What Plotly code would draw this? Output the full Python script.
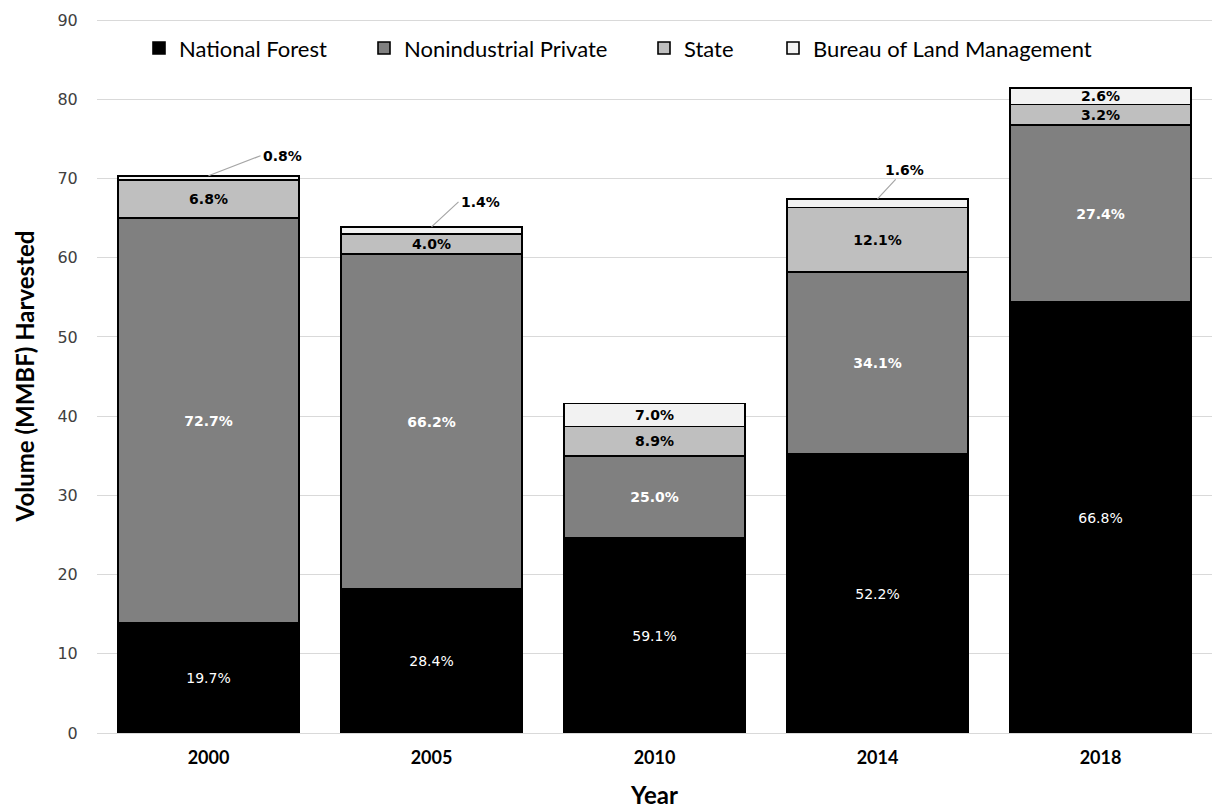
import plotly.graph_objects as go

years = ["2000", "2005", "2010", "2014", "2018"]
national_forest = [13.9, 18.15, 24.6, 35.2, 54.4]
nonindustrial_private = [51.1, 42.3, 10.4, 23.0, 22.35]
state = [4.8, 2.56, 3.7, 8.15, 2.6]
blm = [0.56, 0.9, 2.9, 1.08, 2.1]

nf_pct = ["19.7%", "28.4%", "59.1%", "52.2%", "66.8%"]
nip_pct = ["72.7%", "66.2%", "25.0%", "34.1%", "27.4%"]
st_pct = ["6.8%", "4.0%", "8.9%", "12.1%", "3.2%"]
blm_pct = ["0.8%", "1.4%", "7.0%", "1.6%", "2.6%"]
blm_inside = [False, False, True, False, True]

series_names = ["National Forest", "Nonindustrial Private", "State", "Bureau of Land Management"]
colors = ["#000000", "#808080", "#bfbfbf", "#f2f2f2"]
legend_ids = ["legend", "legend2", "legend3", "legend4"]
legend_text_px = [178, 403, 683, 812]   # left edge of each legend entry's text (px)

LABEL_FONT = "DejaVu Sans"
CAL = "Lato, Carlito, Calibri, sans-serif"

PLOT_L, PLOT_W = 97, 1115

fig = go.Figure()

def add(values, name, color, texts, tcolor, legend_id):
    fig.add_trace(go.Bar(
        x=years, y=values, name=name, legend=legend_id,
        marker=dict(color=color, line=dict(color="#000000", width=1.6)),
        text=texts, textposition="inside", insidetextanchor="middle",
        textangle=0, constraintext="none",
        textfont=dict(family=LABEL_FONT, size=14, color=tcolor),
        hoverinfo="skip",
    ))

add(national_forest, series_names[0], colors[0], nf_pct, "#ffffff", legend_ids[0])
add(nonindustrial_private, series_names[1], colors[1], ["<b>%s</b>" % t for t in nip_pct], "#ffffff", legend_ids[1])
add(state, series_names[2], colors[2], ["<b>%s</b>" % t for t in st_pct], "#000000", legend_ids[2])
add(blm, series_names[3], colors[3],
    ["<b>%s</b>" % t if ins else "" for t, ins in zip(blm_pct, blm_inside)], "#000000", legend_ids[3])

# leader-line labels for small BLM segments
offsets = {0: (52, -20, "left"), 1: (27, -25, "left"), 3: (27, -29, "center")}
for i, (ax, ay, anchor) in offsets.items():
    top = national_forest[i] + nonindustrial_private[i] + state[i] + blm[i]
    fig.add_annotation(
        x=i, y=top, xref="x", yref="y",
        text="<b>%s</b>" % blm_pct[i],
        showarrow=True, arrowhead=0, arrowwidth=1.2, arrowcolor="#a6a6a6",
        ax=ax, ay=ay, xanchor=anchor, yanchor="middle",
        font=dict(family=LABEL_FONT, size=14, color="#000000"),
    )

legend_layouts = {}
for lid, tx in zip(legend_ids, legend_text_px):
    legend_layouts[lid] = dict(
        orientation="h", x=(tx - 39 - PLOT_L) / PLOT_W, y=0.959,
        xanchor="left", yanchor="middle",
        font=dict(family=CAL, size=22, color="#000000"),
        bgcolor="rgba(0,0,0,0)",
    )

fig.update_layout(
    barmode="stack",
    bargap=0.19,
    width=1212, height=810,
    margin=dict(l=PLOT_L, r=0, t=19, b=77),
    plot_bgcolor="#ffffff", paper_bgcolor="#ffffff",
    uniformtext=dict(minsize=14, mode="show"),
    showlegend=True,
    xaxis=dict(
        range=[-0.5, 4.5], showgrid=False, showline=False, zeroline=False,
        ticks="outside", ticklen=8, tickcolor="rgba(0,0,0,0)",
        tickfont=dict(family=CAL, size=18, color="#000000", weight="bold"),
        title=dict(text="<b>Year</b>", font=dict(family=CAL, size=24, color="#000000"), standoff=20),
    ),
    yaxis=dict(
        range=[0, 90.15], dtick=10, showgrid=True, gridcolor="#d9d9d9", gridwidth=1,
        zeroline=True, zerolinecolor="#d9d9d9", zerolinewidth=1, showline=False,
        ticks="outside", ticklen=15, tickcolor="rgba(0,0,0,0)",
        tickfont=dict(family=LABEL_FONT, size=16, color="#404040"),
        title=dict(text="<b>Volume (MMBF) Harvested</b>",
                   font=dict(family=CAL, size=24, color="#000000"), standoff=16),
    ),
    **legend_layouts,
)

fig.write_html("out.html")
